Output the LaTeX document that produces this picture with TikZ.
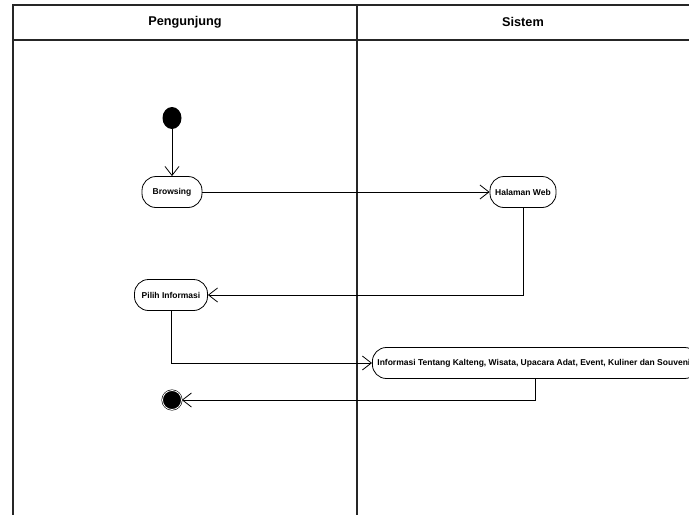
\documentclass[tikz,border=0pt]{standalone}
\usepackage{fontspec}
\setmainfont{Liberation Sans}
\usetikzlibrary{arrows.meta,shapes.geometric}

\begin{document}
\begin{tikzpicture}[
  x=1pt, y=-1pt,
  lane/.style={line width=1.6pt, black!85},
  act/.style={draw, rounded corners=14pt, minimum height=31pt,
              font=\bfseries\fontsize{8.5}{10}\selectfont, inner sep=3pt, line width=0.8pt},
  flow/.style={-{Straight Barb[length=9pt,width=14pt]}, line width=0.8pt},
  head/.style={font=\bfseries\fontsize{12.7}{14}\selectfont}
]
  \useasboundingbox (0,0) rectangle (689,515);
  \clip (0,0) rectangle (689,515);
  % swimlanes
  \draw[lane] (689,5) -- (13,5) -- (13,515);
  \draw[lane] (13,40) -- (689,40);
  \draw[lane] (357,5) -- (357,515);
  \node[head] (lanep) at (185,22) {Pengunjung};
  \node[head] (lanes) at (523,22) {Sistem};
  % activities
  \node[ellipse, fill=black, minimum width=19pt, minimum height=22pt, inner sep=0pt] (start) at (172,118) {};
  \node[act, minimum width=60pt] (browse) at (172,192) {Browsing};
  \node[act, minimum width=66pt] (web) at (523,192) {Halaman Web};
  \node[act, minimum width=73pt] (pilih) at (171,295) {Pilih Informasi};
  \node[act, anchor=west, inner xsep=5pt] (info) at (372,363)
    {Informasi Tentang Kalteng, Wisata, Upacara Adat, Event, Kuliner dan Souvenir};
  \node[circle, draw, fill=black, double=white, double distance=0.8pt,
        line width=0.6pt, minimum size=19pt, inner sep=0pt] (end) at (172,400) {};
  % flows
  \draw[flow] (start) -- (browse);
  \draw[flow] (browse) -- (web);
  \draw[flow] (web.south) |- (pilih.east);
  \draw[flow] (pilih.south) |- (info.west);
  \draw[flow] ([xshift=163pt]info.south west) |- (end.east);
\end{tikzpicture}
\end{document}
